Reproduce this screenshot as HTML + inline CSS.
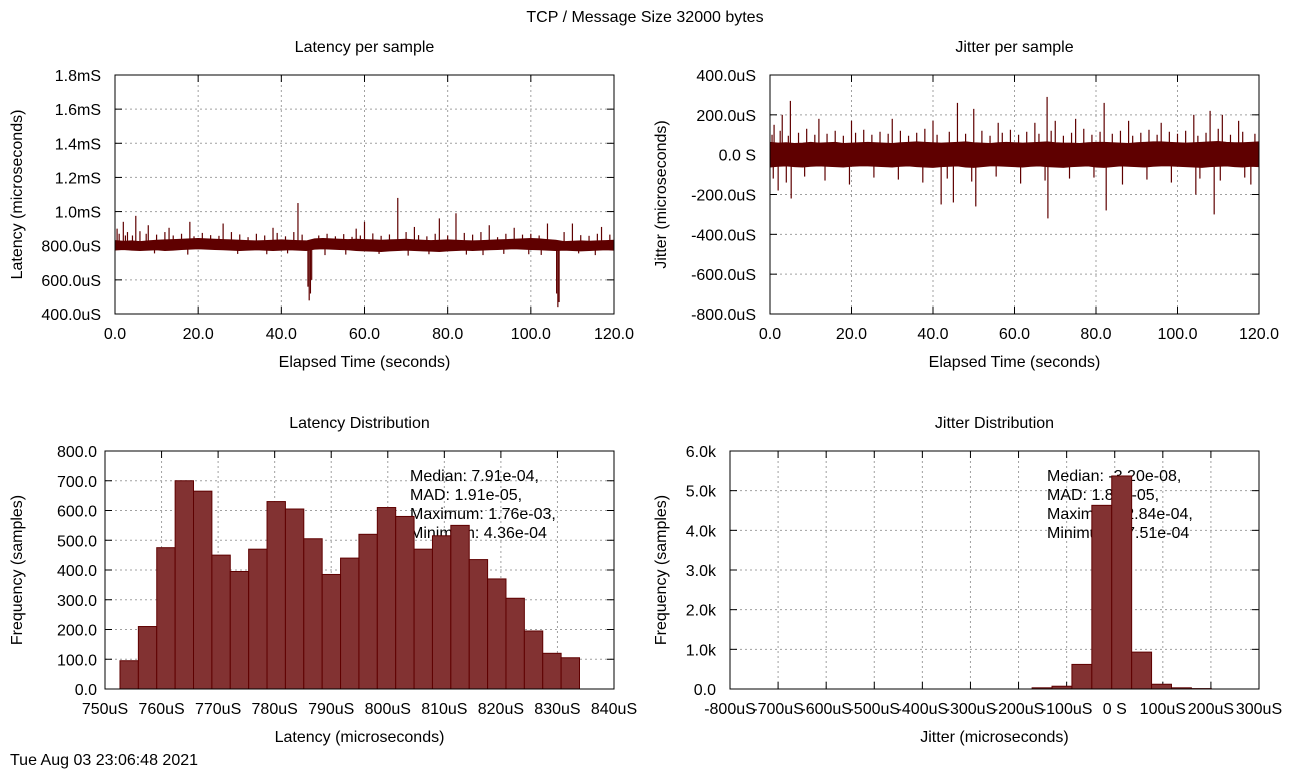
<!DOCTYPE html>
<html><head><meta charset="utf-8">
<style>
html,body{margin:0;padding:0;background:#fff;}
svg{display:block;font-family:"Liberation Sans",Arial,sans-serif;}
text{font-size:16px;fill:#000;}
</style></head>
<body>
<svg id="chart" width="1290" height="770" viewBox="0 0 1290 770">
<rect x="0" y="0" width="1290" height="770" fill="#fff"/>
<text x="645" y="22" text-anchor="middle">TCP / Message Size 32000 bytes</text>
<text x="10" y="765">Tue Aug 03 23:06:48 2021</text>
</svg>
<script>
// ---------- data ----------
const latTimes = [0,2,4,6,8,10,12,14,16,18,20,22,24,26,28,30,32,34,36,38,40,42,44,46,48,50,52,54,56,58,60,62,64,66,68,70,72,74,76,78,80,82,84,86,88,90,92,94,96,98,100,102,104,106,108,110,112,114,116,118,120];
const latHi = [830,826,828,824,828,832,834,836,838,840,842,840,838,836,834,832,830,828,830,832,834,832,830,828,840,842,840,838,836,838,836,834,832,834,836,838,834,832,830,832,834,832,830,828,830,832,834,836,838,840,842,840,836,832,824,826,828,826,828,830,832];
const latLo = [775,778,774,772,774,776,772,774,778,780,782,780,778,776,774,772,774,776,774,772,774,776,774,772,780,782,780,778,776,772,770,768,766,770,772,774,772,770,768,766,770,772,774,772,774,776,778,780,782,780,778,776,774,772,774,772,770,772,774,776,774];
const latSpikeT = [0.5,2,5,8,13,18,26,38,44,46.4,46.7,47.0,47.3,58,60,68,72,78,82,90,96,104,106.2,106.5,106.8,110,117,
  1,3,4.2,6,7.5,10,12,14,16,19,21,23,25,28,30,32,34,36,39,41,43,45,49,51,53,55,57,59,62,64,66,70,73,75,77,80,84,86,88,92,94,98,100,102,108,112,114,116,119,
  2.5,9.5,17.5,29.5,36.5,41.5,50.5,55.5,63.5,70.5,75.5,84.5,88.5,93.5,99.5,102.5,111.5,115.5];
const latSpikeV = [900,940,975,920,905,940,930,905,1050,560,480,520,600,900,940,1080,910,960,990,920,905,930,520,440,470,930,910,
  870,880,860,885,870,865,880,860,870,855,875,862,858,880,866,850,870,860,875,855,880,865,860,870,855,868,852,860,872,858,866,880,862,855,870,860,875,865,880,850,870,865,870,860,880,862,858,870,865,860,
  755,748,752,750,755,745,748,752,742,750,748,745,752,750,746,755,745,752];

const jitTimes = latTimes;
const jitHi = [62,58,60,56,58,62,58,60,62,56,58,60,62,60,58,56,60,62,64,62,60,58,60,62,64,60,58,56,60,62,60,58,60,62,64,60,58,58,56,60,62,62,60,58,56,60,62,64,64,62,60,58,60,62,64,66,62,60,60,62,64];
const jitLo = [-62,-58,-56,-60,-62,-58,-56,-58,-60,-62,-58,-56,-56,-58,-60,-62,-58,-56,-60,-62,-64,-60,-58,-56,-62,-64,-60,-56,-56,-58,-60,-62,-58,-56,-60,-62,-64,-60,-58,-56,-62,-64,-60,-56,-58,-60,-62,-58,-56,-56,-58,-60,-62,-64,-60,-58,-56,-60,-62,-58,-60];
const jitSpikeT = [1,2,3,5,5.2,12,20,30,40,42,45,46,50,50.5,56,65,68,68.2,70,75,82,82.5,88,96,104,104.5,108,109,111,115,118,
  0.5,2.5,4.5,7,9,11,14,16,18,21,23,25,27,29,32,34,36,38,41,44,48,52,54,57,59,61,63,66,69,72,74,77,79,81,84,86,89,91,93,95,98,100,102,105,107,110,113,116,119,
  0.8,4,8.5,13.5,19.5,25.5,31.5,37.5,43.5,49.5,55.5,61.5,67.5,73.5,79.5,86.5,92.5,98.5,105.5,110.5,116.5];
const jitSpikeV = [150,-180,200,270,-220,180,170,180,170,-250,-240,260,230,-260,160,160,290,-320,170,180,260,-280,170,160,200,-200,220,-300,200,170,-150,
  100,120,95,110,130,100,105,120,95,110,125,100,115,105,120,95,110,130,100,115,105,120,95,110,125,100,115,105,120,95,110,130,100,115,105,120,95,110,125,100,115,105,120,95,110,130,100,115,105,
  -120,-140,-110,-130,-150,-115,-125,-140,-120,-135,-110,-145,-130,-120,-115,-150,-125,-140,-120,-130,-115];

const latBinStart = 752.65;
const latBinWidth = 3.25;
const latCounts = [95,210,475,700,665,450,395,470,630,605,505,385,440,520,610,580,470,515,550,435,370,305,195,120,105];

const jitBinStart = -171.8;
const jitBinWidth = 41.4;
const jitCounts = [30,70,620,4630,5370,930,120,30,10];

const latYTicks = [400,600,800,1000,1200,1400,1600,1800];
const latYLabels = ["400.0uS","600.0uS","800.0uS","1.0mS","1.2mS","1.4mS","1.6mS","1.8mS"];
const timeTicks = [0,20,40,60,80,100,120];
const timeLabels = ["0.0","20.0","40.0","60.0","80.0","100.0","120.0"];
const jitYTicks = [-800,-600,-400,-200,0,200,400];
const jitYLabels = ["-800.0uS","-600.0uS","-400.0uS","-200.0uS","0.0 S","200.0uS","400.0uS"];
const latHistXTicks = [750,760,770,780,790,800,810,820,830,840];
const latHistXLabels = ["750uS","760uS","770uS","780uS","790uS","800uS","810uS","820uS","830uS","840uS"];
const latHistYTicks = [0,100,200,300,400,500,600,700,800];
const latHistYLabels = ["0.0","100.0","200.0","300.0","400.0","500.0","600.0","700.0","800.0"];
const jitHistXTicks = [-800,-700,-600,-500,-400,-300,-200,-100,0,100,200,300];
const jitHistXLabels = ["-800uS","-700uS","-600uS","-500uS","-400uS","-300uS","-200uS","-100uS","0 S","100uS","200uS","300uS"];
const jitHistYTicks = [0,1000,2000,3000,4000,5000,6000];
const jitHistYLabels = ["0.0","1.0k","2.0k","3.0k","4.0k","5.0k","6.0k"];
const latStats = ["Median: 7.91e-04,","MAD: 1.91e-05,","Maximum: 1.76e-03,","Minimum: 4.36e-04"];
const jitStats = ["Median: -3.20e-08,","MAD: 1.84e-05,","Maximum: 2.84e-04,","Minimum: -7.51e-04"];

// ---------- helpers ----------
const NS="http://www.w3.org/2000/svg";
const svg=document.getElementById('chart');
function mk(tag,attrs,parent){const e=document.createElementNS(NS,tag);for(const k in attrs)e.setAttribute(k,attrs[k]);(parent||svg).appendChild(e);return e;}
function lin(d0,d1,r0,r1){return v=>r0+(v-d0)/(d1-d0)*(r1-r0);}
let clipN=0;
function panel(p){
  const g=mk('g',{});
  
  
  const xs=lin(p.xd[0],p.xd[1],p.x0,p.x1), ys=lin(p.yd[0],p.yd[1],p.y1,p.y0);
  const cid='clip'+(clipN++);
  const cp=mk('clipPath',{id:cid},g);mk('rect',{x:p.x0,y:p.y0,width:p.x1-p.x0,height:p.y1-p.y0},cp);
  p.xt.forEach((v,i)=>{const x=xs(v);
    if(i>0&&i<p.xt.length-1){const l=mk('line',{x1:x,x2:x,y1:p.y0,y2:p.y1,stroke:'#a0a0a0','stroke-dasharray':'2,3','stroke-width':1},g);}
    mk('line',{x1:x,x2:x,y1:p.y1,y2:p.y1-7,stroke:'#000'},g);mk('line',{x1:x,x2:x,y1:p.y0,y2:p.y0+7,stroke:'#000'},g);
    const t=mk('text',{x:x,y:p.y1+25,'text-anchor':'middle'},g);t.textContent=p.xl[i];
    
  });
  p.yt.forEach((v,i)=>{const y=ys(v);
    if(i>0&&i<p.yt.length-1){const l=mk('line',{x1:p.x0,x2:p.x1,y1:y,y2:y,stroke:'#a0a0a0','stroke-dasharray':'2,3','stroke-width':1},g);}
    mk('line',{x1:p.x0,x2:p.x0+7,y1:y,y2:y,stroke:'#000'},g);mk('line',{x1:p.x1,x2:p.x1-7,y1:y,y2:y,stroke:'#000'},g);
    const t=mk('text',{x:p.x0-p.yoff,y:y+6,'text-anchor':'end'},g);t.textContent=p.yl[i];
    
  });
  const title=mk('text',{x:(p.x0+p.x1)/2,y:p.y0-23,'text-anchor':'middle'},g);title.textContent=p.title;
  
  const xt=mk('text',{x:(p.x0+p.x1)/2,y:p.y1+53,'text-anchor':'middle'},g);xt.textContent=p.xtitle;
  
  const cy=(p.y0+p.y1)/2;
  const yt=mk('text',{x:p.ytx,y:cy,'text-anchor':'middle',transform:`rotate(-90 ${p.ytx} ${cy})`},g);yt.textContent=p.ytitle;
  
  if(p.stats){p.stats.forEach((s,i)=>{const t=mk('text',{x:p.sx,y:481+i*19},g);t.textContent=s;
    });}
  const plot=mk('g',{'clip-path':`url(#${cid})`},g);
  
  
  p.draw(plot,xs,ys);
  const b=mk('rect',{x:p.x0,y:p.y0,width:p.x1-p.x0,height:p.y1-p.y0,fill:'none',stroke:'#000','stroke-width':1},g);
  
}
const C='#5f0000';
function series(times,hi,lo,st,sv,mid){
  return (g,xs,ys)=>{
    const n=Math.min(st.length,sv.length);
    for(let i=0;i<n;i++){const l=mk('line',{x1:xs(st[i]),x2:xs(st[i]),y1:ys(mid),y2:ys(sv[i]),stroke:C,'stroke-width':1.2},g);
      }
    let pts=times.map((t,i)=>xs(t)+','+ys(hi[i]));
    for(let i=times.length-1;i>=0;i--)pts.push(xs(times[i])+','+ys(lo[i]));
    const band=mk('polygon',{points:pts.join(' '),fill:C,stroke:C,'stroke-width':1,'stroke-linejoin':'bevel'},g);
    
  };
}
function hist(start,w,counts){
  return (g,xs,ys)=>{counts.forEach((c,i)=>{const a=xs(start+i*w),b=xs(start+(i+1)*w);
    const r=mk('rect',{x:a,y:ys(c),width:b-a,height:ys(0)-ys(c),fill:'#823232',stroke:C,'stroke-width':1},g);
    });};
}

panel({name:'latency-per-sample-panel',x0:115,x1:614,y0:75,y1:314,xd:[0,120],yd:[400,1800],xt:timeTicks,xl:timeLabels,yt:latYTicks,yl:latYLabels,yoff:14,
  title:'Latency per sample',xtitle:'Elapsed Time (seconds)',ytitle:'Latency (microseconds)',ytx:22,
  draw:series(latTimes,latHi,latLo,latSpikeT,latSpikeV,805)});
panel({name:'jitter-per-sample-panel',x0:770,x1:1259,y0:75,y1:314,xd:[0,120],yd:[-800,400],xt:timeTicks,xl:timeLabels,yt:jitYTicks,yl:jitYLabels,yoff:14,
  title:'Jitter per sample',xtitle:'Elapsed Time (seconds)',ytitle:'Jitter (microseconds)',ytx:666,
  draw:series(jitTimes,jitHi,jitLo,jitSpikeT,jitSpikeV,0)});
panel({name:'latency-distribution-panel',x0:105,x1:614,y0:451,y1:689,xd:[750,840],yd:[0,800],xt:latHistXTicks,xl:latHistXLabels,yt:latHistYTicks,yl:latHistYLabels,yoff:8,
  title:'Latency Distribution',xtitle:'Latency (microseconds)',ytitle:'Frequency (samples)',ytx:22,
  stats:latStats,sx:410,
  draw:hist(latBinStart,latBinWidth,latCounts)});
panel({name:'jitter-distribution-panel',x0:730,x1:1259,y0:451,y1:689,xd:[-800,300],yd:[0,6000],xt:jitHistXTicks,xl:jitHistXLabels,yt:jitHistYTicks,yl:jitHistYLabels,yoff:14,
  title:'Jitter Distribution',xtitle:'Jitter (microseconds)',ytitle:'Frequency (samples)',ytx:666,
  stats:jitStats,sx:1047,
  draw:hist(jitBinStart,jitBinWidth,jitCounts)});
</script>
</body></html>
